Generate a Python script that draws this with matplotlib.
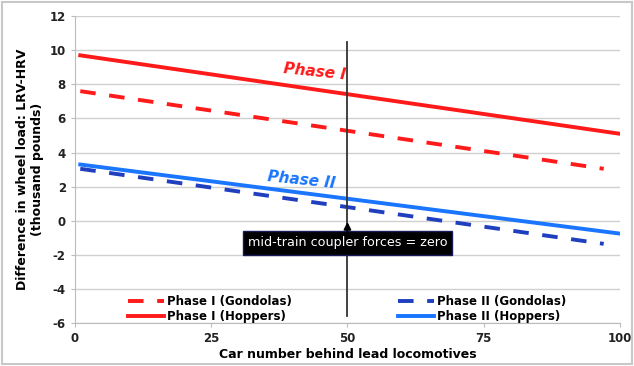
import numpy as np
import matplotlib.pyplot as plt
from matplotlib.patches import Rectangle

plt.rcParams['axes.unicode_minus'] = False

# car number endpoints and wheel-load difference (thousand pounds)
hop_x = [1, 100]
p1_hop = [9.7, 5.1]
p2_hop = [3.3, -0.75]
gon_x = [1, 97]
p1_gon = [7.6, 3.05]
p2_gon = [3.05, -1.35]

xticks = [0, 25, 50, 75, 100]
yticks = [-6, -4, -2, 0, 2, 4, 6, 8, 10, 12]

red = '#ff1a1a'
blue = '#1a75ff'
dblue = '#1f3fbf'

fig = plt.figure(figsize=(6.34, 3.66), dpi=100)
fig.patches.append(Rectangle((0.003, 0.005), 0.994, 0.99, transform=fig.transFigure,
                             fill=False, edgecolor='#c8c8c8', lw=1.5))
ax = fig.add_axes([0.118, 0.117, 0.86, 0.839])

ax.plot(gon_x, p1_gon, color=red, lw=2.8, dashes=(4, 3.5), label='Phase I (Gondolas)')
ax.plot(hop_x, p1_hop, color=red, lw=2.8, label='Phase I (Hoppers)')
ax.plot(gon_x, p2_gon, color=dblue, lw=2.8, dashes=(4, 3.5), label='Phase II (Gondolas)')
ax.plot(hop_x, p2_hop, color=blue, lw=2.8, label='Phase II (Hoppers)')

ax.plot([50, 50], [-5.6, 10.5], color='#333333', lw=1.3)
ax.text(50, -1.3, 'mid-train coupler forces = zero', ha='center', va='center',
        color='white', fontsize=9.2, zorder=5,
        bbox=dict(boxstyle='square,pad=0.4', fc='black', ec='#1a1a5a'))
ax.annotate('', xy=(50, 0.1), xytext=(50, -0.85),
            arrowprops=dict(arrowstyle='-|>', color='black', lw=1.5, mutation_scale=10),
            zorder=6)

ax.text(44, 8.75, 'Phase I', color=red, fontsize=11, fontweight='bold',
        style='italic', ha='center', va='center', rotation=-6)
ax.text(41.5, 2.4, 'Phase II', color=blue, fontsize=11, fontweight='bold',
        style='italic', ha='center', va='center', rotation=-6)

ax.set_xlim(0, 100)
ax.set_ylim(-6, 12)
ax.set_xticks(xticks)
ax.set_yticks(yticks)
ax.tick_params(labelsize=8.5, length=3, color='#bbbbbb')
for t in ax.get_xticklabels() + ax.get_yticklabels():
    t.set_fontweight('bold')
    t.set_color('#222222')
ax.yaxis.grid(True, color='#d0d0d0', lw=1)
ax.set_axisbelow(True)
for s in ['top', 'right']:
    ax.spines[s].set_visible(False)
ax.spines['left'].set_color('#bbbbbb')
ax.spines['bottom'].set_color('#bbbbbb')

ax.set_xlabel('Car number behind lead locomotives', fontsize=9, fontweight='bold', labelpad=2)
ax.set_ylabel('Difference in wheel load: LRV-HRV\n(thousand pounds)', fontsize=9,
              fontweight='bold', labelpad=4)

ax.legend(loc='lower center', ncol=2, frameon=False, columnspacing=9,
          handlelength=3, handletextpad=0.3, labelspacing=0.2,
          prop={'weight': 'bold', 'size': 8.5}, bbox_to_anchor=(0.5, -0.035))

fig.savefig('out.png', dpi=100)
